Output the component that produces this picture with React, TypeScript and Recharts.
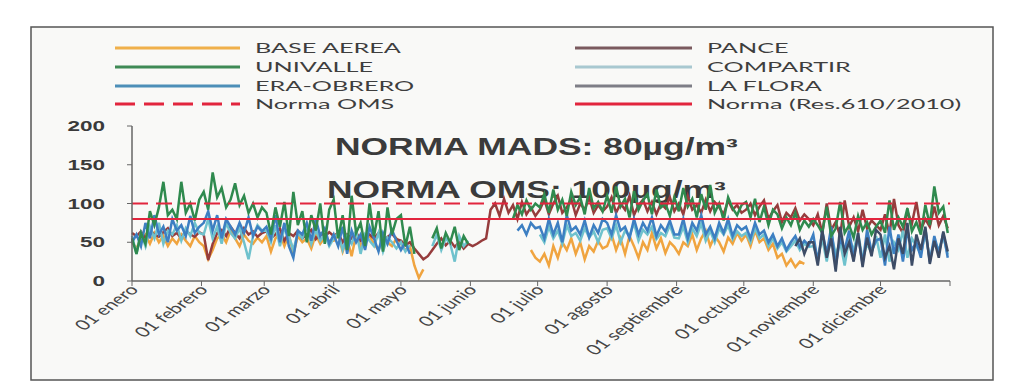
import React from "react";
import { LineChart, Line, XAxis, YAxis, ReferenceLine } from "recharts";

// one sample every second day of the year
const gap = (n: number) => Array(n).fill(null);
const days = Array.from({ length: 183 }, (_, i) => i * 2);

const monthStarts = [0, 31, 59, 90, 120, 151, 181, 212, 243, 273, 304, 334];
const monthLabels = [
  "01 enero",
  "01 febrero",
  "01 marzo",
  "01 abril",
  "01 mayo",
  "01 junio",
  "01 julio",
  "01 agosto",
  "01 septiembre",
  "01 octubre",
  "01 noviembre",
  "01 diciembre",
];
const yTicks = [0, 50, 100, 150, 200];

const normaOMS = 100;
const normaMADS = 80;

// rows: ene, feb, mar, abr, may, jun, jul, ago, sep, oct, nov, dic
const baseAerea = [
  50, 42, 55, 60, 48, 62, 50, 58, 45, 55, 48, 60, 52, 45, 58, 50,
  45, 28, 40, 55, 60, 50, 65, 55, 45, 60, 52, 48, 56, 50,
  58, 38, 55, 62, 45, 60, 35, 58, 50, 55, 42, 60, 48, 56, 52,
  52, 60, 38, 55, 32, 60, 45, 55, 58, 48, 40, 56, 50, 45, 55,
  48, 40, 45, 20, 4, 15, ...gap(10),
  ...gap(13), 40, 30,
  25, 35, 20, 45, 30, 50, 40, 55, 35, 50, 28, 45, 38, 52, 42,
  45, 60, 40, 55, 35, 58, 45, 30, 50, 40, 62, 42, 55, 36, 50, 44,
  35, 50, 45, 60, 40, 55, 65, 45, 58, 50, 38, 56, 48, 62, 52,
  60, 45, 65, 50, 55, 40, 48, 30, 35, 20, 28, 18, 25, 22, null,
  ...gap(15),
  ...gap(16),
];

const pance = [
  62, 58, 64, 55, 66, 60, 57, 63, 68, 58, 62, 55, 65, 60, 57, 63,
  60, 27, 48, 62, 66, 58, 70, 62, 55, 68, 60, 64, 57, 62,
  64, 55, 60, 68, 52, 62, 58, 65, 55, 60, 66, 54, 61, 57, 63,
  58, 62, 50, 60, 55, 63, 52, 58, 60, 55, 62, 50, 57, 61, 54,
  52, 46, 50, 42, 35, 28, 32, 40, 48, 55, 46, 52, 44, 50, 42, 48,
  45, 48, 52, 55, 92, 100, 84, 106, 88, 98, 80, 102, 86, 95, 84,
  92, 105, 86, 100, 110, 88, 95, 106, 85, 100, 92, 108, 88, 98, 90,
  96, 108, 88, 100, 92, 110, 85, 98, 105, 90, 102, 86, 100, 94, 108, 90,
  100, 86, 110, 92, 98, 88, 105, 90, 102, 95, 86, 104, 92, 98, 88,
  92, 100, 85, 96, 104, 80, 90, 98, 76, 88, 82, 94, 78, 86, 80,
  72, 86, 62, 100, 66, 76, 58, 104, 70, 82, 64, 92, 68, 78, 72,
  66, 86, 60, 106, 72, 62, 90, 74, 102, 66, 80, 70, 96, 72, 84, 68,
];

const univalle = [
  55, 35, 62, 48, 90, 72, 95, 128, 85, 92, 80, 128, 88, 100, 78, 105,
  115, 92, 140, 108, 120, 95, 105, 126, 98, 110, 88, 100, 82, 95,
  88, 60, 95, 70, 102, 58, 115, 72, 90, 50, 85, 65, 100, 48, 92,
  105, 55, 85, 40, 110, 62, 75, 45, 100, 58, 90, 38, 95, 60, 80,
  85, 45, 70, 35, null, null, null, 55, 68, 42, 62, 50, 70, 40, 58, 48,
  ...gap(9), 80, 98, 86, 104, 92, 100,
  95, 112, 88, 118, 92, 105, 84, 115, 98, 108, 86, 120, 94, 102, 90,
  110, 88, 122, 96, 106, 82, 116, 92, 104, 112, 86, 118, 95, 100, 84, 108,
  90, 120, 96, 106, 82, 112, 92, 124, 88, 100, 78, 108, 94, 85, 98,
  102, 82, 106, 76, 96, 72, 92, 86, 68, 82, 72, 88, 66, 78, 70,
  80, 72, 62, 96, 58, 68, 102, 62, 72, 56, 84, 66, 76, 60, 70,
  78, 62, 104, 66, 82, 70, 94, 64, 76, 60, 98, 72, 122, 88, 96, 62,
];

const compartir = [
  58, 35, 62, 45, 70, 55, 75, 48, 65, 60, 72, 52, 68, 58, 75, 62,
  60, 80, 55, 70, 48, 75, 62, 55, 68, 50, 28, 58, 72, 65,
  65, 50, 72, 45, 68, 58, 40, 62, 55, 70, 48, 66, 52, 60, 45,
  55, 62, 40, 58, 48, 65, 35, 60, 52, 45, 62, 38, 56, 50, 42,
  50, 38, 46, null, null, null, null, 45, 60, 40, 55, 48, 25, 58, 45, 52,
  ...gap(15),
  60, 50, 70, 55, 65, 48, 72, 58, 62, 52, 68, 56, 64, 50, 66,
  68, 55, 72, 50, 65, 58, 75, 52, 66, 60, 70, 54, 62, 58, 72, 56,
  55, 70, 50, 68, 58, 74, 52, 65, 50, 68, 60, 72, 54, 64, 58,
  62, 50, 68, 55, 60, 45, 55, 42, 50, 38, 45, 52, 40, 48, 44,
  45, 30, 55, 25, 60, 35, 50, 20, 55, 40, 62, 28, 48, 36, 58,
  30, 60, 25, 50, 40, 65, 30, 55, 45, 35, 62, 28, 52, 40, 58, 34,
];

const eraObrero = [
  50, 60, 45, 75, 55, 85, 60, 70, 50, 80, 65, 72, 58, 84, 62, 70,
  75, 90, 65, 85, 55, 80, 70, 60, 75, 62, 82, 58, 70, 64,
  70, 55, 85, 50, 75, 45, 30, 65, 60, 75, 52, 80, 58, 68, 48,
  60, 45, 70, 35, 65, 50, 60, 40, 70, 55, 38, 62, 48, 66, 52,
  40, 50, 35, ...gap(13),
  ...gap(10), 65, 72, 60, 75, 68,
  70, 55, 80, 60, 75, 50, 85, 65, 70, 60, 78, 56, 72, 62, 80,
  75, 60, 85, 65, 70, 55, 80, 60, 75, 65, 82, 58, 72, 64, 78, 60,
  60, 80, 55, 75, 65, 85, 60, 70, 55, 75, 62, 80, 58, 72, 66,
  70, 55, 75, 60, 65, 50, 60, 45, 55, 40, 50, 58, 44, 52, 46,
  60, 25, 65, 35, 70, 20, 55, 40, 65, 30, 58, 22, 66, 38, 52,
  55, 20, 70, 35, 60, 25, 65, 40, 50, 30, 68, 24, 58, 36, 62, 30,
];

const laFlora = [
  ...gap(137),
  ...gap(11), 45, 55, 35, 50,
  50, 20, 65, 30, 55, 12, 70, 35, 50, 25, 62, 18, 56, 32, 66,
  60, 30, 45, 15, 55, 35, 75, 20, 60, 40, 70, 22, 52, 30, 64, 38,
];

// drawing order: later entries sit on top
const series = [
  { key: "baseAerea", name: "BASE AEREA", color: "#f0a43f", values: baseAerea },
  { key: "pance", name: "PANCE", color: "#963c3c", values: pance },
  { key: "compartir", name: "COMPARTIR", color: "#6fc2cd", values: compartir },
  { key: "eraObrero", name: "ERA-OBRERO", color: "#3d7fc2", values: eraObrero },
  { key: "univalle", name: "UNIVALLE", color: "#2f8a4e", values: univalle },
  { key: "laFlora", name: "LA FLORA", color: "#3d4c66", values: laFlora },
];

const data = days.map((day, i) => {
  const row: Record<string, number | null> = { day };
  series.forEach((s) => {
    row[s.key] = s.values[i] ?? null;
  });
  return row;
});

const RED = "#e2253d";

const legendLeft = [
  { name: "BASE AEREA", color: "#f0b04a", dash: undefined },
  { name: "UNIVALLE", color: "#3f8a55", dash: undefined },
  { name: "ERA-OBRERO", color: "#4d8fb8", dash: undefined },
  { name: "Norma OMS", color: RED, dash: "20 9" },
];
const legendRight = [
  { name: "PANCE", color: "#7a5a5e", dash: undefined },
  { name: "COMPARTIR", color: "#a8c8d0", dash: undefined },
  { name: "LA FLORA", color: "#7e7e86", dash: undefined },
  { name: "Norma (Res.610/2010)", color: RED, dash: undefined },
];
const legendRows = [48, 67, 86, 104];

const MonthTick = (props: any) => {
  const { x, y, payload } = props;
  const idx = monthStarts.indexOf(payload.value);
  if (idx < 0) return null;
  return (
    <g transform={`translate(${x + 2},${y - 1}) scale(1.5,1) rotate(-48)`}>
      <text
        textAnchor="end"
        fontFamily="Lato, 'Open Sans', sans-serif"
        fontSize={14}
        fill="#454545"
        dy="0.35em"
      >
        {monthLabels[idx]}
      </text>
    </g>
  );
};

const ValueTick = (props: any) => {
  const { x, y, payload } = props;
  return (
    <g transform={`translate(${x},${y}) scale(1.5,1)`}>
      <text
        textAnchor="end"
        fontFamily="'Liberation Sans', Arial, sans-serif"
        fontWeight="bold"
        fontSize={15}
        fill="#3a3a3a"
        dy={5}
      >
        {payload.value}
      </text>
    </g>
  );
};

function LegendColumn({ items, lineX1, lineX2, textX }) {
  return (
    <g>
      {items.map((it, i) => (
        <g key={it.name}>
          <line
            x1={lineX1}
            x2={lineX2}
            y1={legendRows[i]}
            y2={legendRows[i]}
            stroke={it.color}
            strokeWidth={3}
            strokeDasharray={it.dash}
          />
          <g transform={`translate(${textX},${legendRows[i] + 5}) scale(1.8,1)`}>
            <text fontFamily="Lato, 'Open Sans', sans-serif" fontSize={14} fill="#3e3e3e">
              {it.name}
            </text>
          </g>
        </g>
      ))}
    </g>
  );
}

export default function App() {
  return (
    <div style={{ position: "absolute", left: 0, top: 0, width: 1010, height: 384, background: "#ffffff" }}>
      <svg width={1010} height={384} style={{ position: "absolute", left: 0, top: 0 }}>
        <rect x={31} y={27} width={962} height={353} fill="#f9f9f7" stroke="#555" strokeWidth={1.5} />
        <LegendColumn items={legendLeft} lineX1={115} lineX2={240} textX={255} />
        <LegendColumn items={legendRight} lineX1={575} lineX2={692} textX={707} />
        <g transform="translate(335,155) scale(1.54,1)">
          <text fontFamily="'Liberation Sans', Arial, sans-serif" fontWeight="bold" fontSize={23} fill="#3b3b3b">
            NORMA MADS: 80µg/m³
          </text>
        </g>
        <g transform="translate(327,198) scale(1.54,1)">
          <text fontFamily="'Liberation Sans', Arial, sans-serif" fontWeight="bold" fontSize={23} fill="#3b3b3b">
            NORMA OMS: 100µg/m³
          </text>
        </g>
      </svg>
      <div style={{ position: "absolute", left: 0, top: 0 }}>
        <LineChart
          width={1010}
          height={384}
          data={data}
          margin={{ top: 126, right: 60, bottom: 43, left: 72 }}
        >
          <XAxis
            type="number"
            dataKey="day"
            domain={[0, 365]}
            ticks={[...monthStarts, 365]}
            interval={0}
            height={60}
            tickSize={5}
            tick={<MonthTick />}
            stroke="#666"
            axisLine={{ stroke: "#666", strokeWidth: 1.5 }}
          />
          <YAxis
            domain={[0, 200]}
            ticks={yTicks}
            width={60}
            tickSize={5}
            tickMargin={22}
            tick={<ValueTick />}
            stroke="#666"
            axisLine={{ stroke: "#666", strokeWidth: 1.5 }}
          />
          {series.map((s) => (
            <Line
              key={s.key}
              type="linear"
              dataKey={s.key}
              name={s.name}
              stroke={s.color}
              strokeWidth={2.5}
              dot={false}
              isAnimationActive={false}
            />
          ))}
          <ReferenceLine y={normaOMS} stroke={RED} strokeWidth={2} strokeDasharray="16 8" />
          <ReferenceLine y={normaMADS} stroke={RED} strokeWidth={2} />
        </LineChart>
      </div>
    </div>
  );
}
